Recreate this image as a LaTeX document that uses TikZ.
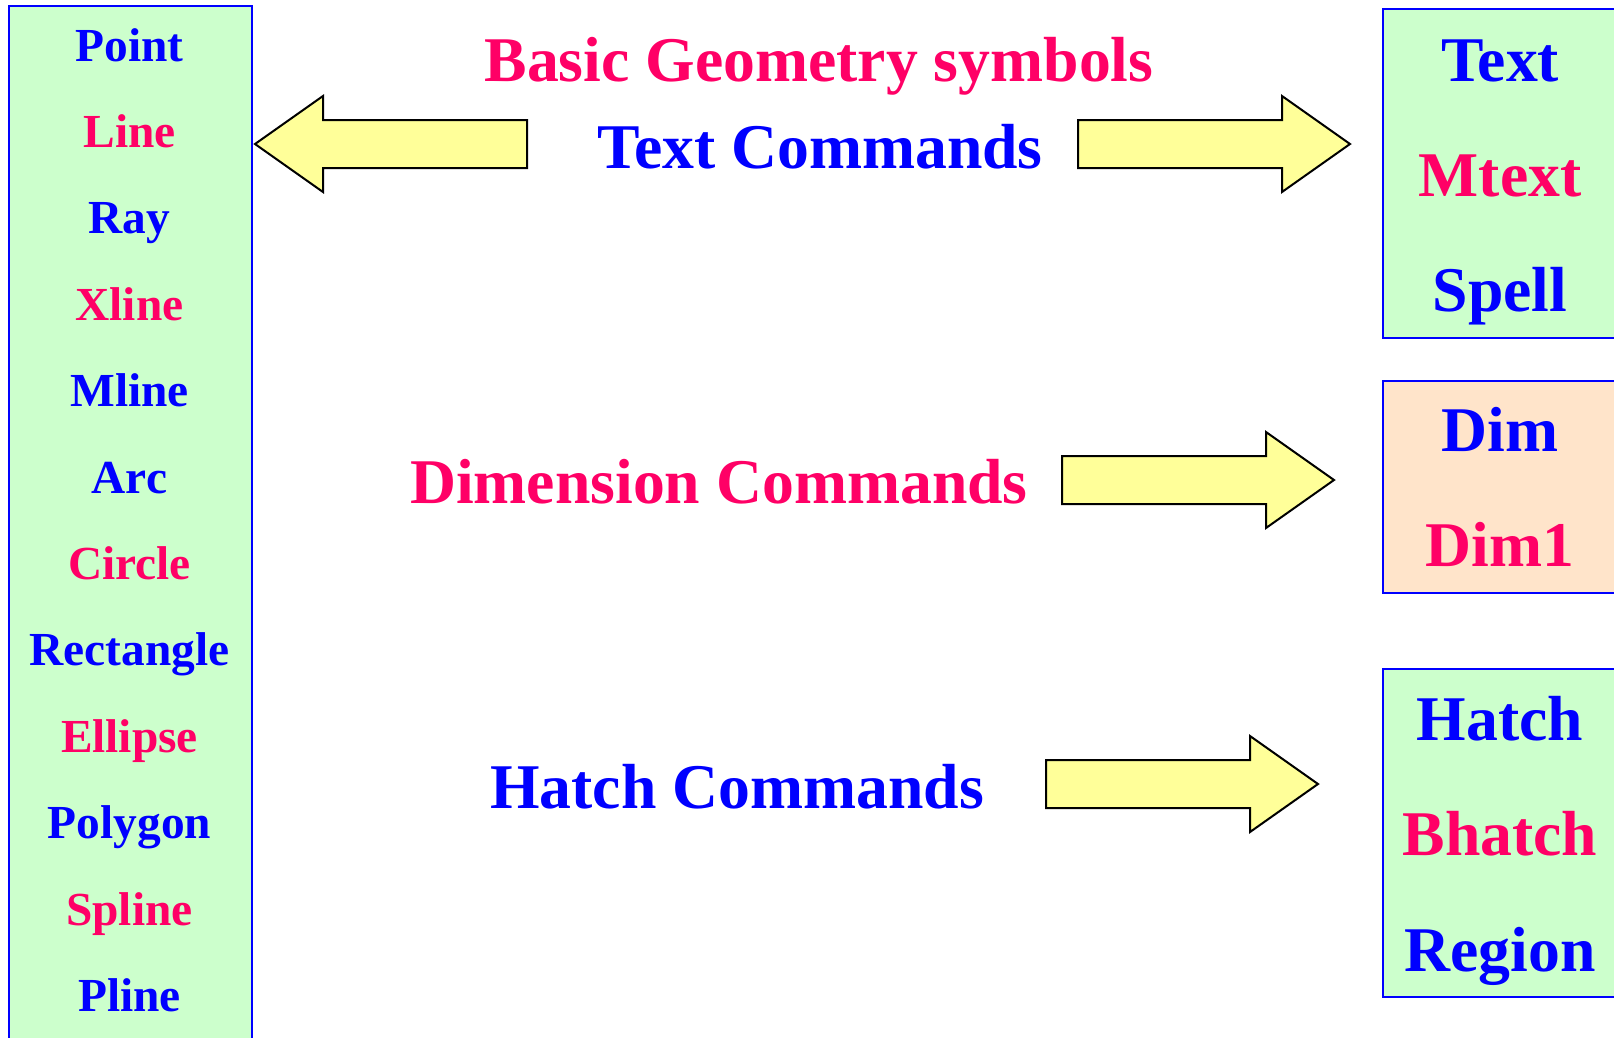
\documentclass[tikz,border=0pt]{standalone}
\usepackage{fontspec}
\setmainfont{Liberation Serif}
\definecolor{pinkred}{HTML}{FF0066}
\definecolor{pureblue}{HTML}{0000FF}
\definecolor{lightgreen}{HTML}{CCFFCC}
\definecolor{peach}{HTML}{FFE4CA}
\definecolor{lightyellow}{HTML}{FFFF99}
\tikzset{
  boxstyle/.style={draw=pureblue, line width=2pt, inner sep=0pt, anchor=north west},
  bigtxt/.style={anchor=base, inner sep=0pt, font=\fontsize{63.7}{70}\selectfont\bfseries},
  smalltxt/.style={anchor=base, inner sep=0pt, font=\fontsize{47.4}{52}\selectfont\bfseries},
  bluetxt/.style={text=pureblue},
  redtxt/.style={text=pinkred},
  blockarrow/.style={draw=black, fill=lightyellow, line width=2pt, line join=miter},
  rarrow/.pic={\draw[blockarrow] (0,-24) -- (204,-24) -- (204,-48) -- (272,0) -- (204,48) -- (204,24) -- (0,24) -- cycle;}
}
\begin{document}
\begin{tikzpicture}[x=1pt,y=-1pt]
\useasboundingbox (0,0) rectangle (1614,1037);
\clip (0,0) rectangle (1614,1037);
\fill[white] (0,0) rectangle (1614,1037);

% left list box
\node[boxstyle, fill=lightgreen, minimum width=243pt, minimum height=1060pt] (leftbox) at (8,5) {};
\foreach \t/\c [count=\i from 0] in {Point/bluetxt, Line/redtxt, Ray/bluetxt, Xline/redtxt, Mline/bluetxt, Arc/bluetxt, Circle/redtxt, Rectangle/bluetxt, Ellipse/redtxt, Polygon/bluetxt, Spline/redtxt, Pline/bluetxt}{
  \node[smalltxt, \c] (item\i) at (129.5, 61+86.4*\i) {\t};
}

% right boxes
\node[boxstyle, fill=lightgreen, minimum width=260pt, minimum height=329pt] (textbox) at (1382,8) {};
\node[boxstyle, fill=peach, minimum width=260pt, minimum height=212pt] (dimbox) at (1382,380) {};
\node[boxstyle, fill=lightgreen, minimum width=260pt, minimum height=328pt] (hatchbox) at (1382,668) {};

\node[bigtxt, bluetxt] (rtext) at (1500,81) {Text};
\node[bigtxt, redtxt] (rmtext) at (1500,196.5) {Mtext};
\node[bigtxt, bluetxt] (rspell) at (1500,311) {Spell};
\node[bigtxt, bluetxt] (rdim) at (1500,451) {Dim};
\node[bigtxt, redtxt] (rdim1) at (1500,566) {Dim1};
\node[bigtxt, bluetxt] (rhatch) at (1500,740) {Hatch};
\node[bigtxt, redtxt] (rbhatch) at (1500,855) {Bhatch};
\node[bigtxt, bluetxt] (rregion) at (1500,971) {Region};

% centre labels
\node[bigtxt, redtxt] (basic) at (819,81) {Basic Geometry symbols};
\node[bigtxt, bluetxt] (textcmd) at (820,168) {Text Commands};
\node[bigtxt, redtxt] (dimcmd) at (719,503) {Dimension Commands};
\node[bigtxt, bluetxt] (hatchcmd) at (737,808) {Hatch Commands};

% block arrows
\pic[xscale=-1] (arrowleft) at (527,144) {rarrow};
\pic (arrowtext) at (1078,144) {rarrow};
\pic (arrowdim) at (1062,480) {rarrow};
\pic (arrowhatch) at (1046,784) {rarrow};
\end{tikzpicture}
\end{document}
